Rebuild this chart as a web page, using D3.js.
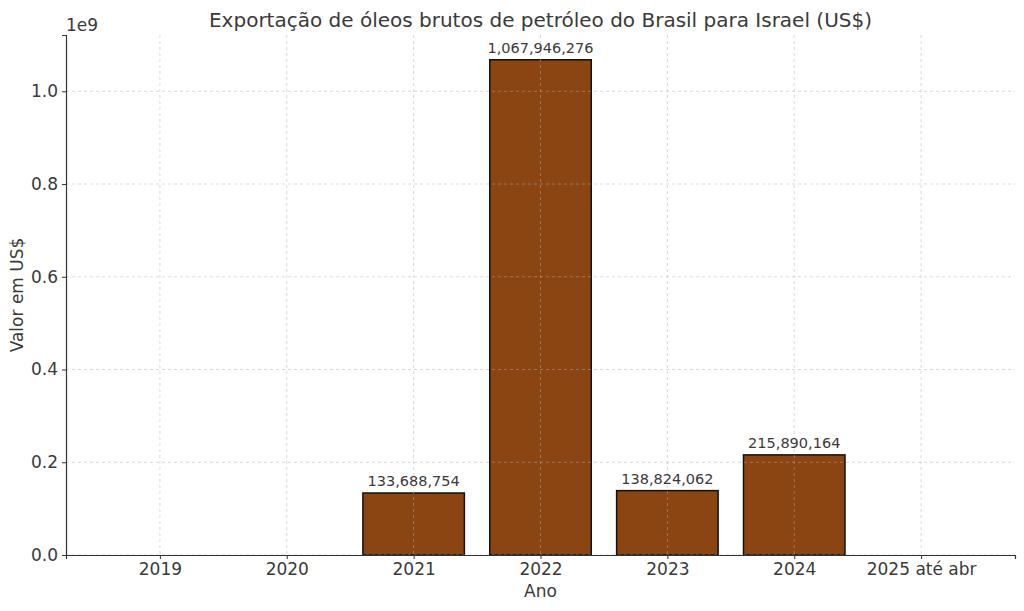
<!DOCTYPE html>
<html>
<head>
<meta charset="utf-8">
<script src="https://cdn.jsdelivr.net/npm/d3@7"></script>
<style>
  body { margin: 0; background: #fff; }
  text { font-family: "DejaVu Sans", sans-serif; fill: #3a3a3a; }
</style>
</head>
<body>
<div id="chart"></div>
<script>
// data
var years = ["2019", "2020", "2021", "2022", "2023", "2024", "2025 até abr"];
var values = [0, 0, 133688754, 1067946276, 138824062, 215890164, 0];
var yTicks = [0, 0.2e9, 0.4e9, 0.6e9, 0.8e9, 1.0e9];

var W = 1024, H = 611;
var margin = {top: 35, right: 9, bottom: 56, left: 66},
    width = W - margin.left - margin.right,
    height = H - margin.top - margin.bottom;

var svg = d3.select("#chart")
  .append("svg")
  .attr("width", W)
  .attr("height", H)
  .append("g")
  .attr("transform", "translate(" + margin.left + "," + margin.top + ")");

// x is linear over category index, like matplotlib's bar positions
var x = d3.scaleLinear()
  .domain([-0.74, years.length - 1 + 0.74])
  .range([0, width]);
var step = x(1) - x(0);

var y = d3.scaleLinear()
  .domain([0, d3.max(values) * 1.05])
  .range([height, 0]);

// bars
svg.selectAll("rect.bar")
  .data(values)
  .enter()
  .filter(function(d) { return d > 0; })
  .append("rect")
  .attr("class", "bar")
  .attr("x", function(d, i) { return x(values.indexOf(d)) - step * 0.4; })
  .attr("y", function(d) { return y(d); })
  .attr("width", step * 0.8)
  .attr("height", function(d) { return y(0) - y(d); })
  .attr("fill", "#8B4513")
  .attr("stroke", "#111")
  .attr("stroke-width", 1.5);

// grid (on top of bars, like the reference)
var grid = svg.append("g");
grid.selectAll("line.gy")
  .data(yTicks)
  .enter().append("line")
  .attr("x1", 0).attr("x2", width)
  .attr("y1", function(d) { return y(d); })
  .attr("y2", function(d) { return y(d); })
  .attr("stroke", "#b0b0b0").attr("stroke-opacity", 0.6)
  .attr("stroke-dasharray", "3,3").attr("stroke-width", 0.8);
grid.selectAll("line.gx")
  .data(d3.range(years.length))
  .enter().append("line")
  .attr("y1", 0).attr("y2", height)
  .attr("x1", function(d) { return x(d); })
  .attr("x2", function(d) { return x(d); })
  .attr("stroke", "#b0b0b0").attr("stroke-opacity", 0.6)
  .attr("stroke-dasharray", "3,3").attr("stroke-width", 0.8);

// value labels
svg.selectAll("text.val")
  .data(values)
  .enter()
  .filter(function(d) { return d > 0; })
  .append("text")
  .attr("x", function(d) { return x(values.indexOf(d)); })
  .attr("y", function(d) { return y(d) - 7; })
  .attr("text-anchor", "middle")
  .style("font-size", "14.5px")
  .text(function(d) { return d3.format(",")(d); });

// X axis
var xAxis = svg.append("g")
  .attr("transform", "translate(0," + height + ")")
  .call(d3.axisBottom(x)
    .tickValues(d3.range(years.length))
    .tickFormat(function(i) { return years[i]; })
    .tickSize(4).tickPadding(4));
xAxis.select(".domain").attr("stroke", "#333").attr("stroke-width", 1.2);
xAxis.selectAll(".tick line").attr("stroke", "#333");
xAxis.selectAll("text").style("font-size", "17px");

// Y axis
var yAxis = svg.append("g")
  .call(d3.axisLeft(y)
    .tickValues(yTicks)
    .tickFormat(function(d) { return (d / 1e9).toFixed(1); })
    .tickSize(4).tickPadding(4));
yAxis.select(".domain").attr("stroke", "#333").attr("stroke-width", 1.2);
yAxis.selectAll(".tick line").attr("stroke", "#333");
yAxis.selectAll("text").style("font-size", "17px");

// offset label
svg.append("text")
  .attr("x", 0).attr("y", -4)
  .style("font-size", "17px")
  .text("1e9");

// titles
svg.append("text")
  .attr("x", width / 2).attr("y", -8)
  .attr("text-anchor", "middle")
  .style("font-size", "20px")
  .text("Exportação de óleos brutos de petróleo do Brasil para Israel (US$)");

svg.append("text")
  .attr("x", width / 2).attr("y", height + 42)
  .attr("text-anchor", "middle")
  .style("font-size", "17px")
  .text("Ano");

svg.append("text")
  .attr("transform", "translate(" + (-43) + "," + (height / 2) + ")rotate(-90)")
  .attr("text-anchor", "middle")
  .style("font-size", "17px")
  .text("Valor em US$");
</script>
</body>
</html>
